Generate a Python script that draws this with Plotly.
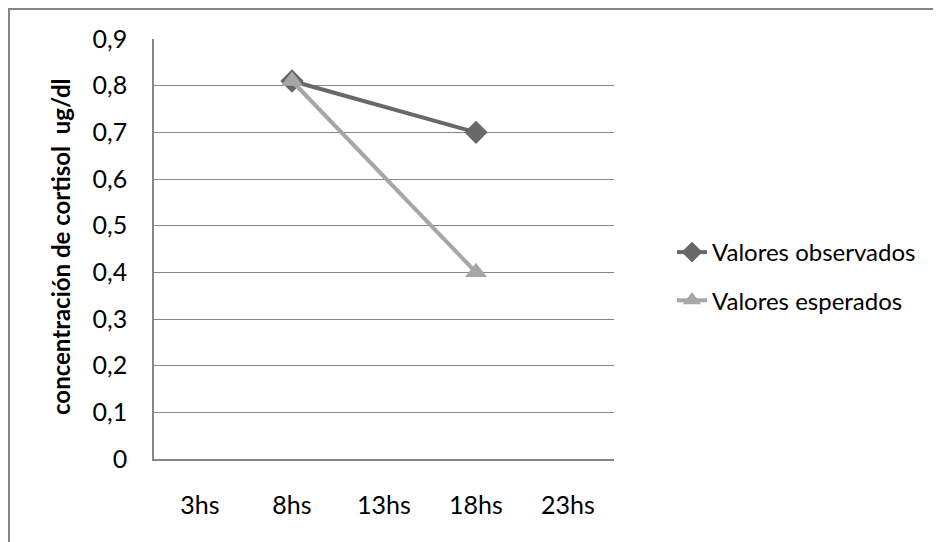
import plotly.graph_objects as go

categories = ["3hs", "8hs", "13hs", "18hs", "23hs"]
observados = [None, 0.81, None, 0.70, None]
esperados = [None, 0.81, None, 0.40, None]
y_ticks = [0, 0.1, 0.2, 0.3, 0.4, 0.5, 0.6, 0.7, 0.8, 0.9]

xpos = list(range(len(categories)))
FONT = "Lato"

fig = go.Figure()
fig.add_trace(go.Scatter(
    x=xpos, y=observados, name="Valores observados", mode="lines+markers",
    connectgaps=True, legendgroup="a",
    line=dict(color="#686868", width=4),
    marker=dict(symbol="diamond", size=18, color="#686868"),
))
fig.add_trace(go.Scatter(
    x=xpos, y=esperados, name="Valores esperados", mode="lines+markers",
    connectgaps=True, legendgroup="b",
    line=dict(color="#A6A6A6", width=4),
    marker=dict(symbol="triangle-up", size=19, color="#A6A6A6"),
))

# page is offset by the default 8px body margin
OFF = 8
W, H = 941 - OFF, 542 - OFF
L, R, T, B = 154 - OFF, 614 - OFF, 39 - OFF, 459 - OFF
pw, ph = R - L, B - T

def px_x(p):
    return (p - L) / pw

def px_y(p):
    return (B - p) / ph

# outer chart border (top and left visible)
fig.add_shape(type="line", xref="paper", yref="paper",
              x0=px_x(0), x1=px_x(W + 5), y0=px_y(1), y1=px_y(1),
              line=dict(color="#868686", width=2))
fig.add_shape(type="line", xref="paper", yref="paper",
              x0=px_x(1), x1=px_x(1), y0=px_y(0), y1=px_y(H + 5),
              line=dict(color="#868686", width=2))

fig.add_annotation(
    text="<b>concentración de cortisol  ug/dl</b>", textangle=-90,
    xref="paper", yref="paper", x=px_x(60 - OFF), y=px_y(247 - OFF),
    xanchor="center", yanchor="middle",
    showarrow=False, font=dict(family=FONT, size=24, color="#000000"),
)

fig.update_layout(
    width=W, height=H,
    margin=dict(l=L, r=W - R, t=T, b=H - B, pad=0),
    paper_bgcolor="white", plot_bgcolor="white",
    font=dict(family=FONT, size=24, color="#000000"),
    separators=", ",
    showlegend=True,
    legend=dict(x=px_x(672 - OFF), xanchor="left", y=px_y(276.5 - OFF),
                yanchor="middle",
                font=dict(family=FONT, size=24, color="#000000"),
                tracegroupgap=14, bgcolor="rgba(0,0,0,0)"),
    xaxis=dict(
        range=[-0.5, len(categories) - 0.5], tickmode="array",
        tickvals=xpos, ticktext=categories, showgrid=False,
        showline=True, linecolor="#868686", linewidth=1.5,
        zeroline=False, ticks="", ticklabelstandoff=23,
        tickfont=dict(family=FONT, size=25),
    ),
    yaxis=dict(
        range=[0, 0.9], tickmode="array", tickvals=y_ticks,
        showgrid=True, gridcolor="#868686", gridwidth=1,
        showline=True, linecolor="#868686", linewidth=1.5,
        zeroline=False, ticks="", ticklabelstandoff=20,
        tickfont=dict(family=FONT, size=25),
    ),
)

fig.write_html("out.html")
